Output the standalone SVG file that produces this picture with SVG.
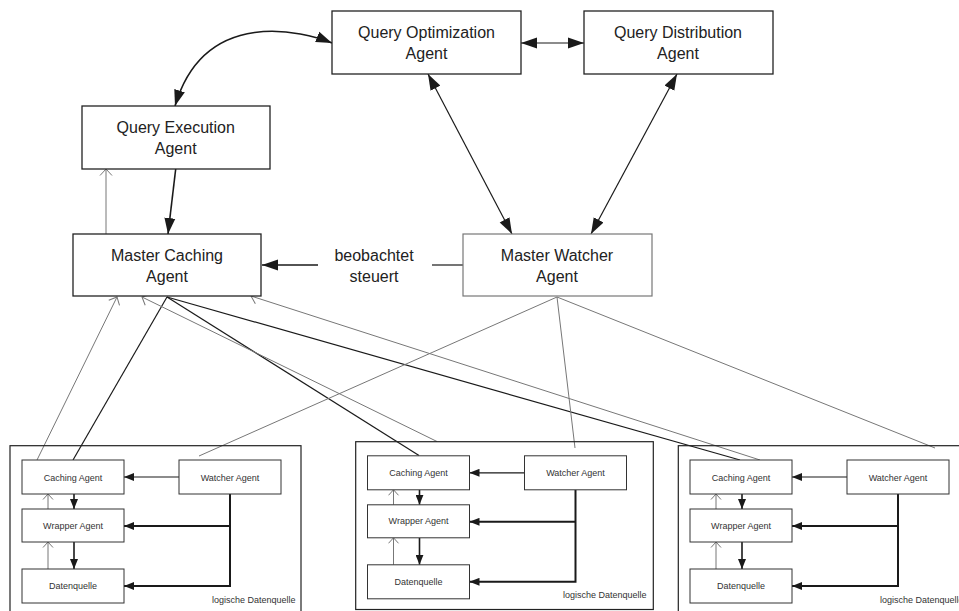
<svg xmlns="http://www.w3.org/2000/svg" width="959" height="611" viewBox="0 0 959 611">
<defs>
<style>
.box{fill:#fff;stroke:#222;stroke-width:1.3}
.boxg{fill:#fff;stroke:#777;stroke-width:1.2}
.frame{fill:none;stroke:#222;stroke-width:1.2}
.sbox{fill:#fff;stroke:#333;stroke-width:1}
.t{font-family:"Liberation Sans",Arial,sans-serif;font-size:16px;fill:#222;text-anchor:middle}
.ts{font-family:"Liberation Sans",Arial,sans-serif;font-size:9px;fill:#333;text-anchor:middle}
.tl{font-family:"Liberation Sans",Arial,sans-serif;font-size:9px;fill:#333;text-anchor:end}
.k{fill:none;stroke:#1a1a1a;stroke-width:1.2}
.kb{fill:none;stroke:#1a1a1a;stroke-width:1.6}
.kt{fill:none;stroke:#1a1a1a;stroke-width:2}
.g{fill:none;stroke:#777;stroke-width:1}
</style>
<marker id="big" markerUnits="userSpaceOnUse" markerWidth="16" markerHeight="12" refX="16" refY="5.5" orient="auto-start-reverse" viewBox="0 0 16 11"><path d="M0,0 L16,5.5 L0,11 z" fill="#1a1a1a"/></marker>
<marker id="small" markerUnits="userSpaceOnUse" markerWidth="10" markerHeight="8" refX="10" refY="4" orient="auto" viewBox="0 0 10 8"><path d="M0,0 L10,4 L0,8 z" fill="#1a1a1a"/></marker>
<marker id="open" markerUnits="userSpaceOnUse" markerWidth="8" markerHeight="14" refX="7" refY="7" orient="auto" viewBox="0 0 8 14"><path d="M0.5,1 L7,7 L0.5,13" fill="none" stroke="#777" stroke-width="1"/></marker>
<marker id="opens" markerUnits="userSpaceOnUse" markerWidth="7" markerHeight="12" refX="6" refY="6" orient="auto" viewBox="0 0 7 12"><path d="M0.5,1 L6,6 L0.5,11" fill="none" stroke="#777" stroke-width="1"/></marker>
</defs>
<rect width="959" height="611" fill="#fff"/>

<g id="connectors">
  <path class="kb" d="M332,43 C305,32 205,5 175,106" marker-start="url(#big)" marker-end="url(#big)"/>
  <line class="k" x1="521" y1="43" x2="584" y2="43" marker-start="url(#big)" marker-end="url(#big)"/>
  <line class="k" x1="428" y1="74" x2="512" y2="234" marker-start="url(#big)" marker-end="url(#big)"/>
  <line class="k" x1="677" y1="74" x2="591" y2="234" marker-start="url(#big)" marker-end="url(#big)"/>
  <line class="kb" x1="175.7" y1="169" x2="168" y2="234" marker-end="url(#big)"/>
  <line class="g" x1="106" y1="234" x2="106" y2="169" marker-end="url(#open)"/>
  <line class="k" x1="463" y1="265" x2="432" y2="265"/>
  <line class="kb" x1="318" y1="265" x2="262" y2="265" marker-end="url(#big)"/>

  <line class="g" x1="37" y1="460" x2="117" y2="297" marker-end="url(#open)"/>
  <line class="k" x1="73" y1="460" x2="167" y2="297"/>
  <line class="k" x1="167" y1="297" x2="419" y2="455.5"/>
  <line class="g" x1="437" y1="441.5" x2="142" y2="297" marker-end="url(#open)"/>
  <line class="k" x1="167" y1="297" x2="740" y2="460"/>
  <line class="g" x1="760" y1="460" x2="251" y2="296" marker-end="url(#open)"/>
  <line class="g" x1="557" y1="297" x2="199" y2="456"/>
  <line class="g" x1="557" y1="297" x2="575" y2="448"/>
  <line class="g" x1="557" y1="297" x2="935" y2="448"/>

  <g id="c1-conn">
    <line class="k" x1="179" y1="477" x2="124" y2="477" marker-end="url(#small)"/>
    <line class="kb" x1="74" y1="494" x2="74" y2="509" marker-end="url(#small)"/>
    <line class="kb" x1="74" y1="542" x2="74" y2="569" marker-end="url(#small)"/>
    <line class="g" x1="48" y1="509" x2="48" y2="494" marker-end="url(#opens)"/>
    <line class="g" x1="48" y1="569" x2="48" y2="542" marker-end="url(#opens)"/>
    <polyline class="kt" points="230,494 230,586 124,586" marker-end="url(#small)"/>
    <line class="kt" x1="230" y1="526" x2="124" y2="526" marker-end="url(#small)"/>
  </g>
  <use href="#c1-conn" transform="translate(345.5,-4.2)"/>
  <use href="#c1-conn" transform="translate(668,0)"/>
</g>

<g id="query-optimization"><rect class="box" x="332" y="11" width="189" height="63"/><text class="t" x="426.5" y="38">Query Optimization</text><text class="t" x="426.5" y="59">Agent</text></g>
<g id="query-distribution"><rect class="box" x="584" y="11" width="189" height="63"/><text class="t" x="678" y="38">Query Distribution</text><text class="t" x="678" y="59">Agent</text></g>
<g id="query-execution"><rect class="box" x="82" y="106" width="188" height="63"/><text class="t" x="175.7" y="132.7">Query Execution</text><text class="t" x="175.7" y="153.5">Agent</text></g>
<g id="master-caching"><rect class="box" x="73" y="234" width="188" height="62"/><text class="t" x="167" y="260.7">Master Caching</text><text class="t" x="167" y="281.7">Agent</text></g>
<g id="master-watcher"><rect class="boxg" x="463" y="234" width="189" height="62"/><text class="t" x="557" y="260.7">Master Watcher</text><text class="t" x="557" y="281.7">Agent</text></g>
<g id="label-beobachtet"><text class="t" x="374" y="260.7">beobachtet</text><text class="t" x="374" y="281.7">steuert</text></g>

<g id="ldq1">
  <rect class="frame" x="10" y="445.7" width="291" height="170"/>
  <text class="tl" x="295.5" y="603">logische Datenquelle</text>
  <g id="ldq1-nodes">
    <g id="caching1"><rect class="sbox" x="22" y="460" width="102" height="34"/><text class="ts" x="73" y="480.5">Caching Agent</text></g>
    <g id="watcher1"><rect class="sbox" x="179" y="460" width="102" height="34"/><text class="ts" x="230" y="480.5">Watcher Agent</text></g>
    <g id="wrapper1"><rect class="sbox" x="22" y="509" width="102" height="33"/><text class="ts" x="73" y="528.5">Wrapper Agent</text></g>
    <g id="daten1"><rect class="sbox" x="22" y="569" width="102" height="34"/><text class="ts" x="73" y="589">Datenquelle</text></g>
  </g>
</g>
<g id="ldq2">
  <rect class="frame" x="355.7" y="441.7" width="297.6" height="167.8"/>
  <text class="tl" x="646.5" y="598">logische Datenquelle</text>
  <g transform="translate(345.5,-4.2)">
    <g id="caching2"><rect class="sbox" x="22" y="460" width="102" height="34"/><text class="ts" x="73" y="480.5">Caching Agent</text></g>
    <g id="watcher2"><rect class="sbox" x="179" y="460" width="102" height="34"/><text class="ts" x="230" y="480.5">Watcher Agent</text></g>
    <g id="wrapper2"><rect class="sbox" x="22" y="509" width="102" height="33"/><text class="ts" x="73" y="528.5">Wrapper Agent</text></g>
    <g id="daten2"><rect class="sbox" x="22" y="569" width="102" height="34"/><text class="ts" x="73" y="589">Datenquelle</text></g>
  </g>
</g>
<g id="ldq3">
  <rect class="frame" x="678.3" y="445.7" width="291" height="170"/>
  <text class="tl" x="963.5" y="603">logische Datenquelle</text>
  <g transform="translate(668,0)">
    <g id="caching3"><rect class="sbox" x="22" y="460" width="102" height="34"/><text class="ts" x="73" y="480.5">Caching Agent</text></g>
    <g id="watcher3"><rect class="sbox" x="179" y="460" width="102" height="34"/><text class="ts" x="230" y="480.5">Watcher Agent</text></g>
    <g id="wrapper3"><rect class="sbox" x="22" y="509" width="102" height="33"/><text class="ts" x="73" y="528.5">Wrapper Agent</text></g>
    <g id="daten3"><rect class="sbox" x="22" y="569" width="102" height="34"/><text class="ts" x="73" y="589">Datenquelle</text></g>
  </g>
</g>
</svg>
